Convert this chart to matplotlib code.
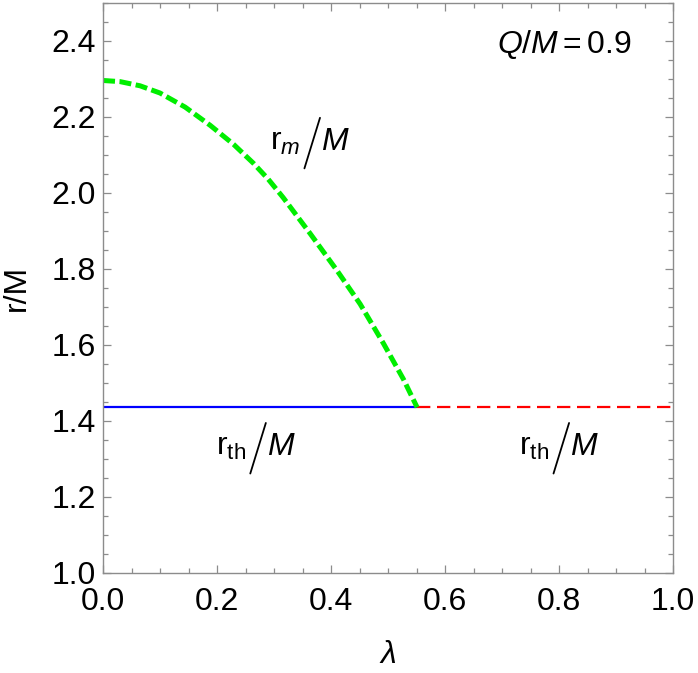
import numpy as np
import matplotlib.pyplot as plt
import matplotlib.transforms as mtransforms
from matplotlib.ticker import MultipleLocator

plt.rcParams['font.family'] = ['Liberation Sans', 'DejaVu Sans']
plt.rcParams['mathtext.fontset'] = 'custom'
plt.rcParams['mathtext.rm'] = 'Liberation Sans'
plt.rcParams['mathtext.it'] = 'Liberation Sans:italic'
plt.rcParams['mathtext.bf'] = 'Liberation Sans:bold'

# Values
Q_OVER_M = 0.9
lam_m = [0.0, 0.03, 0.065, 0.10, 0.144, 0.188, 0.229, 0.264, 0.29, 0.316,
         0.363, 0.41, 0.451, 0.492, 0.527, 0.551]
r_m = [2.296, 2.293, 2.282, 2.263, 2.226, 2.178, 2.128, 2.078, 2.036, 1.988,
       1.894, 1.797, 1.708, 1.604, 1.510, 1.436]
r_th = 1.436          # horizon radius
lam_split = 0.551     # where r_m meets r_th
lam_max = 1.0

fig = plt.figure(figsize=(6.98, 6.73), dpi=100)
ax = fig.add_axes([0.1476, 0.1486, 0.8166, 0.847])

ax.plot([0, lam_split], [r_th, r_th], color='#0000ff', lw=1.6, solid_capstyle='butt')
ax.plot([lam_split, lam_max], [r_th, r_th], color='#ff0000', lw=1.6,
        dashes=(6, 3), clip_on=False)
ax.plot(lam_m, r_m, color='#00ee00', lw=3.6, dashes=(2.4, 0.9))

ax.set_xlim(0, 1)
ax.set_ylim(1.0, 2.5)
ax.xaxis.set_minor_locator(MultipleLocator(0.05))
ax.yaxis.set_minor_locator(MultipleLocator(0.05))
ax.set_xticks([0, 0.2, 0.4, 0.6, 0.8, 1.0])
ax.set_xticklabels(['0.0', '0.2', '0.4', '0.6', '0.8', '1.0'])
ax.set_yticks([1.0, 1.2, 1.4, 1.6, 1.8, 2.0, 2.2, 2.4])
ax.set_yticklabels(['1.0', '1.2', '1.4', '1.6', '1.8', '2.0', '2.2', '2.4'])

frame_col = '#8c8c8c'
for s in ax.spines.values():
    s.set_color(frame_col)
    s.set_linewidth(1.0)
ax.tick_params(which='both', direction='in', top=True, right=True,
               color=frame_col, width=0.9, labelsize=23)
ax.tick_params(which='major', length=6)
ax.tick_params(which='minor', length=3.5)
ax.tick_params(axis='x', pad=10)
ax.tick_params(axis='y', pad=5)

ax.set_xlabel(r'$\lambda$', fontsize=23, labelpad=17)
ax.set_ylabel('r/M', fontsize=23, labelpad=14)

ax.text(0.81, 2.39, r'$Q/M = 0.9$', fontsize=23, ha='center', va='center')


# "r_x / M" label with a tall slash, anchored at the slash centre on the baseline
def frac_label(x, y, sub, size=23):
    ax.annotate(r'$\mathrm{r}_{%s}$' % sub, (x, y), xytext=(-8.5, 0),
                textcoords='offset points', ha='right', va='baseline', fontsize=size)
    ax.annotate(r'$M$', (x, y), xytext=(6.5, 0),
                textcoords='offset points', ha='left', va='baseline', fontsize=size)
    start = mtransforms.offset_copy(ax.transData, fig=fig, x=-5.6, y=5 - 18.2,
                                    units='points')
    ax.annotate('', xy=(x, y), xycoords=start, xytext=(11.2, 36.4),
                textcoords='offset points',
                arrowprops=dict(arrowstyle='-', lw=1.3, color='black',
                                shrinkA=0, shrinkB=0))


frac_label(0.367, 2.113, 'm')
frac_label(0.272, 1.31, r'\mathrm{th}')
frac_label(0.804, 1.31, r'\mathrm{th}')

fig.savefig('out.png', dpi=100)
